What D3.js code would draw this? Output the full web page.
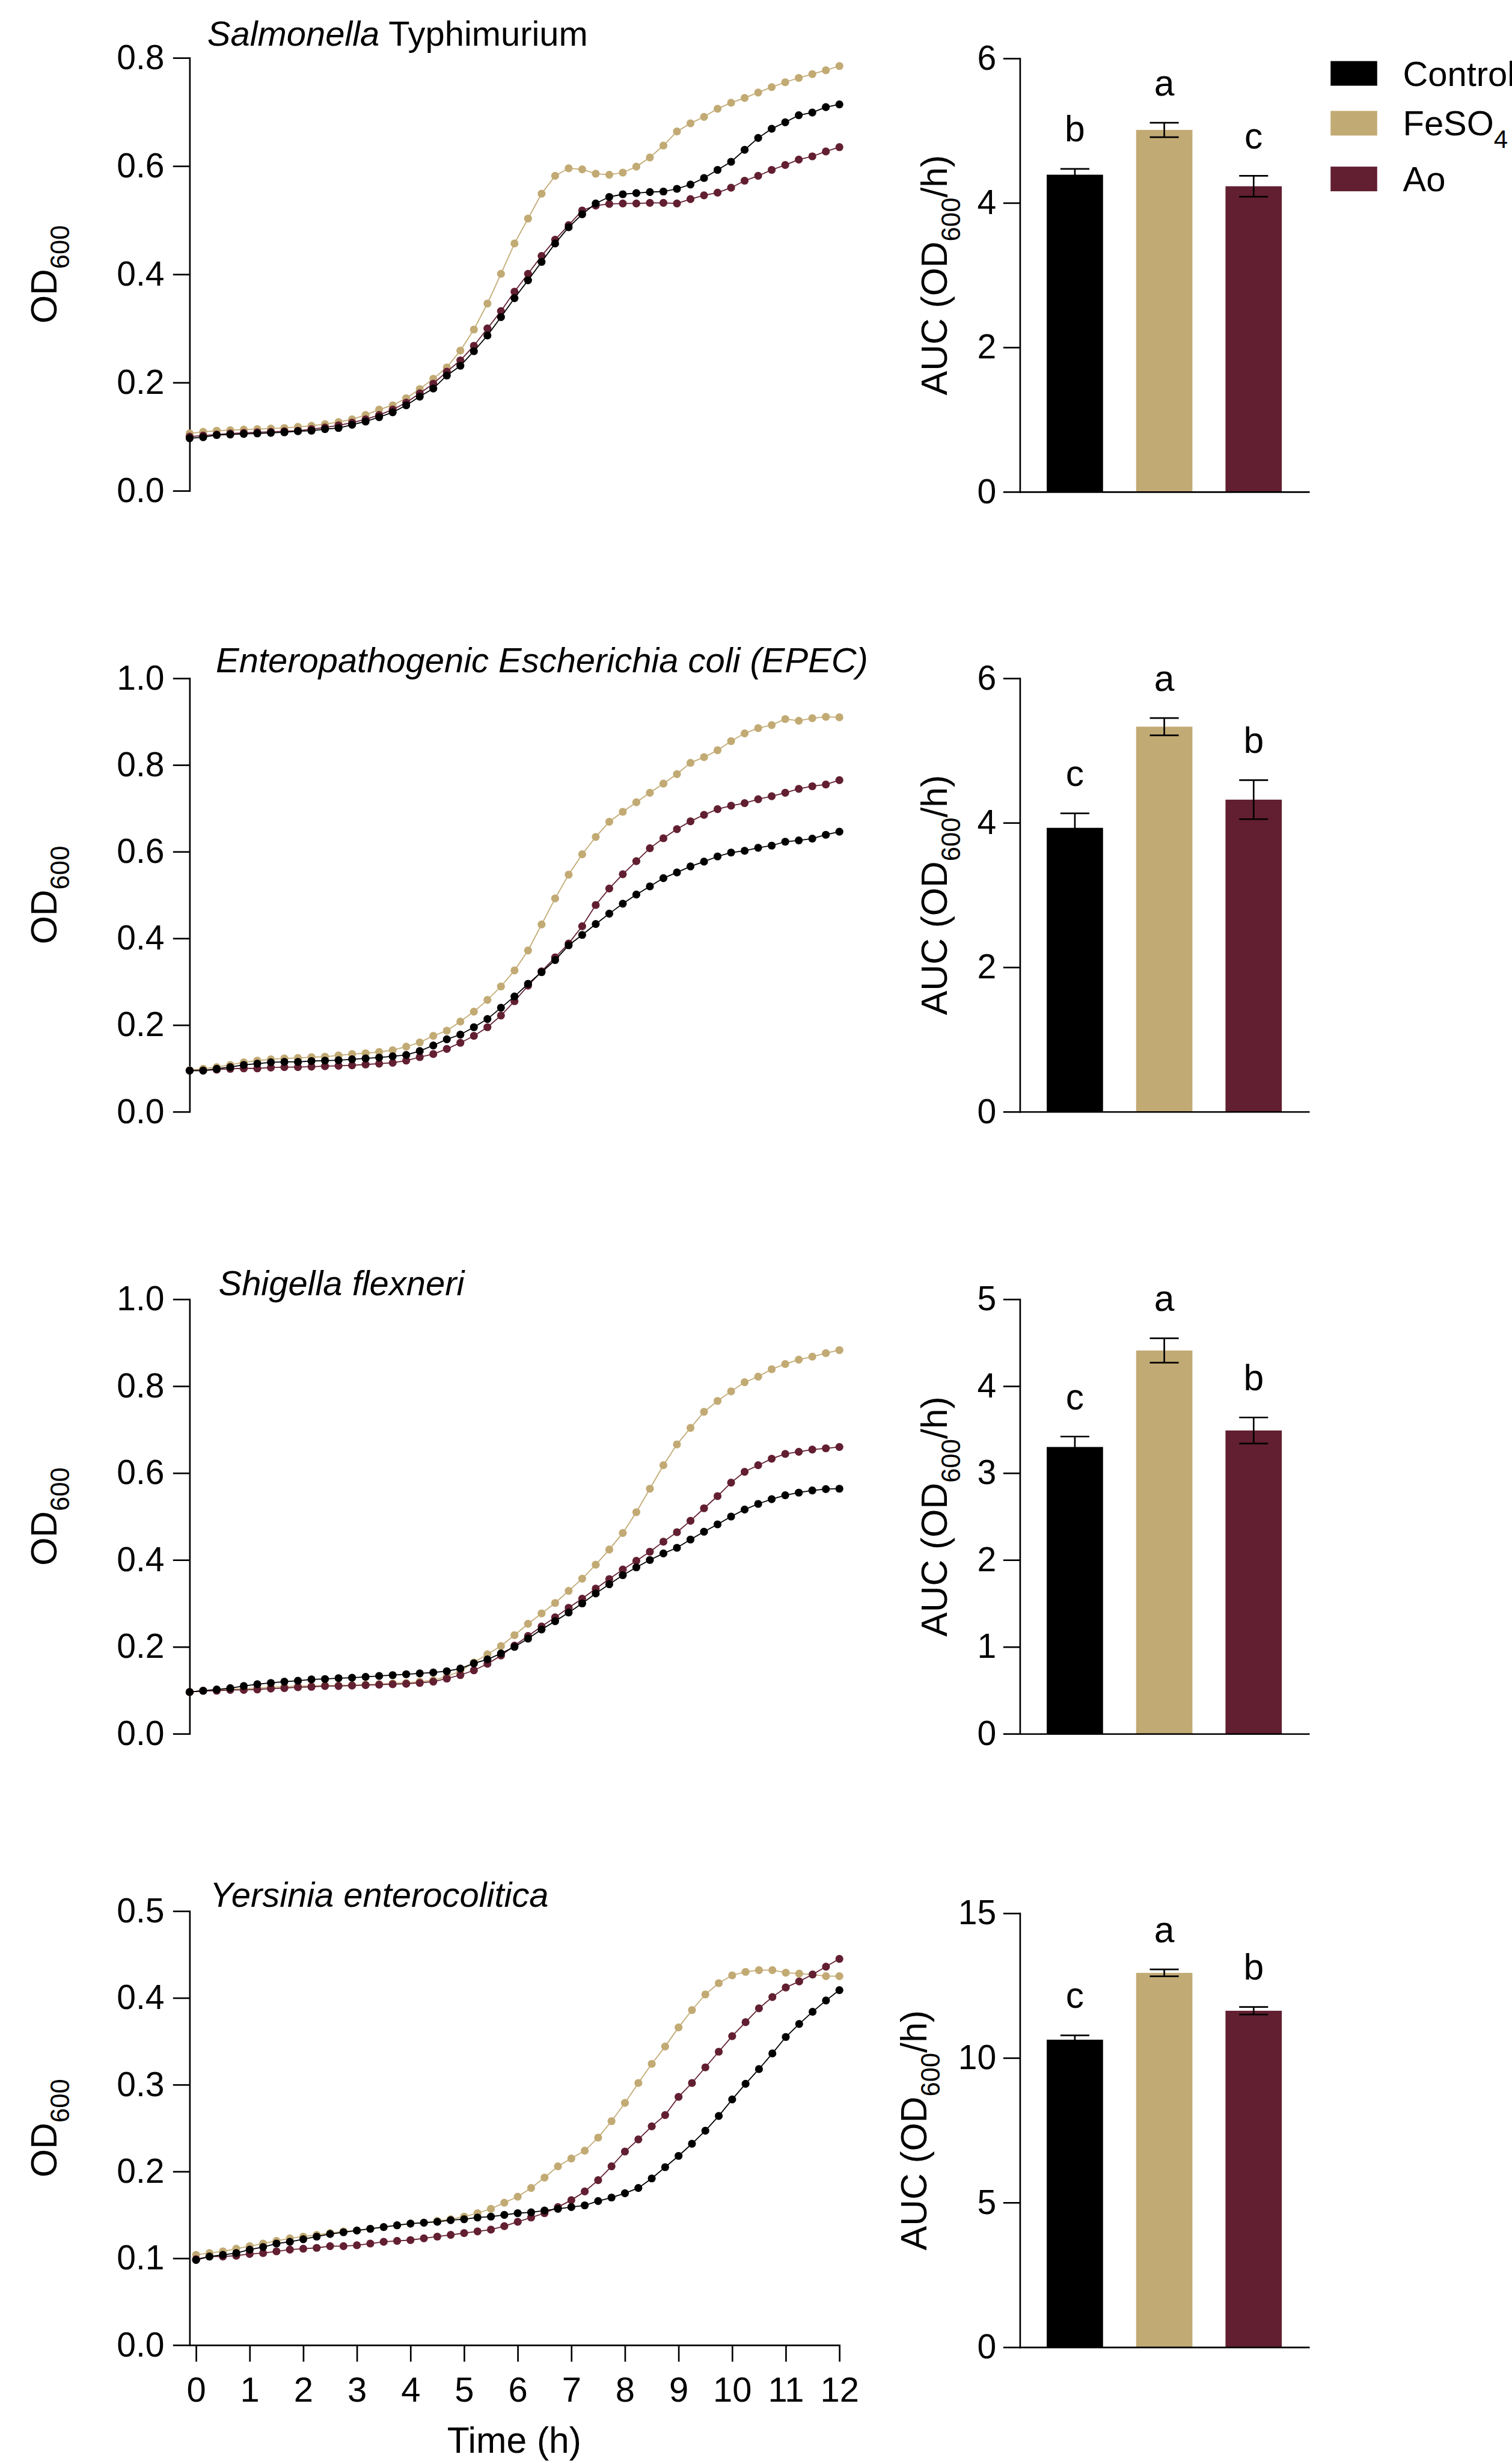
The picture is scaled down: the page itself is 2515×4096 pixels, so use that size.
<!DOCTYPE html>
<html>
<head>
<meta charset="utf-8">
<script src="https://cdn.jsdelivr.net/npm/d3@7"></script>
<style>
  body { margin: 0; background: #fff; }
  svg text { font-family: "Liberation Sans", Arial, sans-serif; fill: #000; }
</style>
</head>
<body>
<div id="chart"></div>
<script>
// time points (h)
var hours = [0, 0.25, 0.5, 0.75, 1, 1.25, 1.5, 1.75, 2, 2.25, 2.5, 2.75, 3, 3.25, 3.5, 3.75,
    4, 4.25, 4.5, 4.75, 5, 5.25, 5.5, 5.75, 6, 6.25, 6.5, 6.75, 7, 7.25, 7.5, 7.75,
    8, 8.25, 8.5, 8.75, 9, 9.25, 9.5, 9.75, 10, 10.25, 10.5, 10.75, 11, 11.25, 11.5, 11.75, 12];
var hourTicks = [0, 1, 2, 3, 4, 5, 6, 7, 8, 9, 10, 11, 12];

var groups = ["Control", "FeSO4", "Ao"];

// Salmonella Typhimurium
var salCtrl = [0.097, 0.099, 0.103, 0.104, 0.105, 0.106, 0.107, 0.108, 0.110, 0.111, 0.114, 0.116, 0.122, 0.128, 0.136, 0.145,
    0.158, 0.174, 0.189, 0.213, 0.231, 0.258, 0.287, 0.321, 0.356, 0.389, 0.423, 0.457, 0.487, 0.511, 0.531, 0.543,
    0.548, 0.550, 0.552, 0.553, 0.558, 0.566, 0.578, 0.593, 0.608, 0.630, 0.652, 0.669, 0.681, 0.694, 0.699, 0.709, 0.714];
var salFe = [0.106, 0.109, 0.111, 0.112, 0.113, 0.114, 0.115, 0.116, 0.118, 0.120, 0.123, 0.127, 0.132, 0.140, 0.150, 0.158,
    0.171, 0.188, 0.207, 0.228, 0.259, 0.298, 0.346, 0.401, 0.457, 0.503, 0.549, 0.582, 0.596, 0.594, 0.586, 0.584,
    0.588, 0.599, 0.616, 0.638, 0.664, 0.679, 0.691, 0.706, 0.717, 0.726, 0.736, 0.746, 0.755, 0.763, 0.770, 0.777, 0.785];
var salAo = [0.100, 0.102, 0.104, 0.106, 0.107, 0.108, 0.109, 0.110, 0.111, 0.114, 0.117, 0.121, 0.126, 0.132, 0.140, 0.150,
    0.163, 0.180, 0.198, 0.220, 0.241, 0.268, 0.300, 0.332, 0.368, 0.401, 0.434, 0.464, 0.491, 0.518, 0.527, 0.530,
    0.531, 0.531, 0.532, 0.532, 0.531, 0.539, 0.546, 0.551, 0.560, 0.573, 0.582, 0.593, 0.602, 0.612, 0.618, 0.627, 0.635];

// EPEC
var epecCtrl = [0.095, 0.095, 0.099, 0.103, 0.108, 0.111, 0.114, 0.115, 0.115, 0.117, 0.118, 0.119, 0.121, 0.123, 0.125, 0.128,
    0.131, 0.140, 0.153, 0.167, 0.178, 0.195, 0.214, 0.240, 0.266, 0.295, 0.322, 0.350, 0.384, 0.408, 0.433, 0.457,
    0.480, 0.501, 0.520, 0.539, 0.552, 0.566, 0.577, 0.589, 0.598, 0.602, 0.609, 0.614, 0.623, 0.626, 0.630, 0.639, 0.646];
var epecFe = [0.096, 0.099, 0.103, 0.108, 0.114, 0.118, 0.121, 0.123, 0.124, 0.126, 0.127, 0.130, 0.133, 0.135, 0.138, 0.142,
    0.150, 0.160, 0.175, 0.187, 0.208, 0.231, 0.258, 0.289, 0.326, 0.372, 0.432, 0.492, 0.547, 0.594, 0.634, 0.669,
    0.692, 0.714, 0.736, 0.757, 0.779, 0.805, 0.818, 0.834, 0.855, 0.873, 0.885, 0.892, 0.906, 0.902, 0.908, 0.911, 0.910];
var epecAo = [0.095, 0.095, 0.097, 0.099, 0.100, 0.100, 0.102, 0.103, 0.103, 0.104, 0.105, 0.106, 0.107, 0.109, 0.111, 0.113,
    0.118, 0.126, 0.133, 0.145, 0.159, 0.175, 0.195, 0.222, 0.255, 0.291, 0.324, 0.356, 0.388, 0.428, 0.477, 0.515,
    0.548, 0.578, 0.608, 0.631, 0.652, 0.670, 0.685, 0.698, 0.706, 0.712, 0.721, 0.728, 0.736, 0.745, 0.751, 0.755, 0.765];

// Shigella flexneri
var shiCtrl = [0.096, 0.099, 0.102, 0.105, 0.110, 0.114, 0.117, 0.120, 0.122, 0.125, 0.126, 0.128, 0.129, 0.131, 0.133, 0.135,
    0.137, 0.139, 0.141, 0.144, 0.150, 0.162, 0.171, 0.185, 0.200, 0.219, 0.240, 0.259, 0.279, 0.300, 0.323, 0.344,
    0.365, 0.383, 0.400, 0.415, 0.428, 0.447, 0.465, 0.482, 0.500, 0.516, 0.529, 0.540, 0.549, 0.555, 0.560, 0.563, 0.564];
var shiFe = [0.096, 0.099, 0.101, 0.102, 0.104, 0.105, 0.107, 0.108, 0.110, 0.110, 0.111, 0.111, 0.112, 0.113, 0.114, 0.116,
    0.117, 0.120, 0.123, 0.132, 0.144, 0.164, 0.183, 0.202, 0.227, 0.253, 0.277, 0.301, 0.329, 0.357, 0.389, 0.424,
    0.462, 0.510, 0.564, 0.618, 0.666, 0.704, 0.741, 0.766, 0.788, 0.809, 0.822, 0.839, 0.851, 0.861, 0.868, 0.876, 0.883];
var shiAo = [0.096, 0.099, 0.099, 0.101, 0.101, 0.102, 0.104, 0.105, 0.107, 0.108, 0.110, 0.110, 0.111, 0.112, 0.113, 0.114,
    0.115, 0.117, 0.120, 0.127, 0.135, 0.146, 0.161, 0.180, 0.203, 0.225, 0.247, 0.268, 0.290, 0.311, 0.334, 0.356,
    0.378, 0.398, 0.419, 0.442, 0.464, 0.490, 0.519, 0.547, 0.578, 0.603, 0.618, 0.633, 0.644, 0.649, 0.654, 0.657, 0.660];

// Yersinia enterocolitica
var yerCtrl = [0.098, 0.102, 0.104, 0.106, 0.110, 0.113, 0.117, 0.119, 0.122, 0.125, 0.128, 0.130, 0.132, 0.134, 0.136, 0.138,
    0.140, 0.141, 0.142, 0.144, 0.145, 0.147, 0.148, 0.150, 0.152, 0.153, 0.155, 0.157, 0.159, 0.161, 0.166, 0.170,
    0.175, 0.181, 0.192, 0.205, 0.218, 0.232, 0.247, 0.264, 0.283, 0.301, 0.318, 0.336, 0.355, 0.370, 0.384, 0.397, 0.409];
var yerFe = [0.104, 0.106, 0.108, 0.111, 0.114, 0.117, 0.120, 0.123, 0.125, 0.127, 0.129, 0.131, 0.132, 0.134, 0.136, 0.138,
    0.140, 0.141, 0.143, 0.145, 0.148, 0.152, 0.157, 0.164, 0.171, 0.181, 0.193, 0.206, 0.215, 0.224, 0.239, 0.258,
    0.279, 0.302, 0.324, 0.344, 0.366, 0.386, 0.404, 0.417, 0.426, 0.430, 0.432, 0.432, 0.429, 0.428, 0.427, 0.425, 0.425];
var yerAo = [0.099, 0.102, 0.102, 0.103, 0.105, 0.106, 0.108, 0.110, 0.111, 0.112, 0.114, 0.114, 0.115, 0.117, 0.119, 0.120,
    0.121, 0.123, 0.125, 0.127, 0.129, 0.131, 0.133, 0.137, 0.142, 0.147, 0.152, 0.159, 0.167, 0.177, 0.190, 0.206,
    0.223, 0.237, 0.252, 0.265, 0.286, 0.302, 0.320, 0.338, 0.356, 0.372, 0.388, 0.401, 0.412, 0.419, 0.427, 0.436, 0.445];

// AUC bars: Control, FeSO4, Ao
var salAuc = [4.39, 5.01, 4.23], salErr = [0.08, 0.10, 0.145], salLetters = ["b", "a", "c"];
var epecAuc = [3.93, 5.33, 4.32], epecErr = [0.20, 0.12, 0.27], epecLetters = ["c", "a", "b"];
var shiAuc = [3.30, 4.41, 3.49], shiErr = [0.12, 0.14, 0.15], shiLetters = ["c", "a", "b"];
var yerAuc = [10.63, 12.94, 11.63], yerErr = [0.15, 0.12, 0.13], yerLetters = ["c", "a", "b"];

// axis ticks
var odTicks08 = [0, 0.2, 0.4, 0.6, 0.8];
var odTicks10 = [0, 0.2, 0.4, 0.6, 0.8, 1.0];
var odTicks05 = [0, 0.1, 0.2, 0.3, 0.4, 0.5];
var aucTicks6 = [0, 2, 4, 6];
var aucTicks5 = [0, 1, 2, 3, 4, 5];
var aucTicks15 = [0, 5, 10, 15];

var colors = { Control: "#000000", FeSO4: "#C2AA74", Ao: "#621F31" };
var drawOrder = ["FeSO4", "Ao", "Control"];

var panels = [
    { title: [["Salmonella", true], [" Typhimurium", false]], curves: { Control: salCtrl, FeSO4: salFe, Ao: salAo },
      yMax: 0.8, yTicks: odTicks08, auc: salAuc, err: salErr, letters: salLetters, aucMax: 6, aucTicks: aucTicks6 },
    { title: [["Enteropathogenic Escherichia coli (EPEC)", true]], curves: { Control: epecCtrl, FeSO4: epecFe, Ao: epecAo },
      yMax: 1.0, yTicks: odTicks10, auc: epecAuc, err: epecErr, letters: epecLetters, aucMax: 6, aucTicks: aucTicks6 },
    { title: [["Shigella flexneri", true]], curves: { Control: shiCtrl, FeSO4: shiFe, Ao: shiAo },
      yMax: 1.0, yTicks: odTicks10, auc: shiAuc, err: shiErr, letters: shiLetters, aucMax: 5, aucTicks: aucTicks5 },
    { title: [["Yersinia enterocolitica", true]], curves: { Control: yerCtrl, FeSO4: yerFe, Ao: yerAo },
      yMax: 0.5, yTicks: odTicks05, auc: yerAuc, err: yerErr, letters: yerLetters, aucMax: 15, aucTicks: aucTicks15 }
];

// layout in reference pixels (drawn at 0.891)
var layout = [
    { top: 108, bottom: 916, barTop: 109, barBottom: 918, titleX: 387, titleY: 85, xMin: 0, aucLabelX: 1768 },
    { top: 1266, bottom: 2075, barTop: 1266, barBottom: 2075, titleX: 403, titleY: 1255, xMin: 0, aucLabelX: 1768 },
    { top: 2425, bottom: 3236, barTop: 2425, barBottom: 3236, titleX: 408, titleY: 2418, xMin: 0, aucLabelX: 1768 },
    { top: 3567, bottom: 4377, barTop: 3571, barBottom: 4381, titleX: 392, titleY: 3559, xMin: -0.12, aucLabelX: 1730 }
];

var k = 0.891;
var svg = d3.select("#chart").append("svg")
    .attr("width", 2515)
    .attr("height", 4096);
var root = svg.append("g").attr("transform", "scale(" + k + ")");

function styleAxis(sel, size) {
    sel.attr("font-family", null).attr("font-size", size);
    sel.select(".domain").attr("stroke", "#000").attr("stroke-width", 3).attr("stroke-linecap", "square");
    sel.selectAll(".tick line").attr("stroke", "#000").attr("stroke-width", 3);
    sel.selectAll(".tick text").attr("fill", "#000");
}

function subLabel(g, x, y, before, sub, after) {
    var t = g.append("text")
        .attr("transform", "translate(" + x + "," + y + ") rotate(-90)")
        .attr("text-anchor", "middle")
        .attr("font-size", 68);
    t.append("tspan").text(before);
    t.append("tspan").attr("font-size", 49).attr("dy", 24).text(sub);
    if (after) t.append("tspan").attr("dy", -24).text(after);
}

panels.forEach(function (p, idx) {
    var L = layout[idx];
    var g = root.append("g");

    // growth curve
    var x = d3.scaleLinear().domain([L.xMin, 12]).range([354, 1567]);
    var y = d3.scaleLinear().domain([0, p.yMax]).range([L.bottom, L.top]);

    g.append("g")
        .attr("transform", "translate(354,0)")
        .call(d3.axisLeft(y).tickValues(p.yTicks).tickFormat(d3.format(".1f"))
            .tickSize(31).tickSizeOuter(0).tickPadding(16))
        .call(styleAxis, 64);

    if (idx === panels.length - 1) {
        g.append("g")
            .attr("transform", "translate(0," + L.bottom + ")")
            .call(d3.axisBottom(x).tickValues(hourTicks).tickFormat(d3.format("d"))
                .tickSize(31).tickSizeOuter(0).tickPadding(29))
            .call(styleAxis, 65);
        g.append("text")
            .attr("x", 960)
            .attr("y", 4578)
            .attr("text-anchor", "middle")
            .attr("font-size", 68)
            .text("Time (h)");
    }

    var line = d3.line()
        .x(function (d, i) { return x(hours[i]); })
        .y(function (d) { return y(d); });

    drawOrder.forEach(function (name) {
        var vals = p.curves[name];
        g.append("path")
            .datum(vals)
            .attr("fill", "none")
            .attr("stroke", colors[name])
            .attr("stroke-width", 2)
            .attr("d", line);
        g.selectAll(null)
            .data(vals)
            .enter()
            .append("circle")
            .attr("cx", function (d, i) { return x(hours[i]); })
            .attr("cy", function (d) { return y(d); })
            .attr("r", 7.4)
            .attr("fill", colors[name]);
    });

    var title = g.append("text")
        .attr("x", L.titleX)
        .attr("y", L.titleY)
        .attr("font-size", 65);
    p.title.forEach(function (part) {
        title.append("tspan")
            .attr("font-style", part[1] ? "italic" : "normal")
            .text(part[0]);
    });

    subLabel(g, 105, (L.top + L.bottom) / 2, "OD", "600");

    // AUC bars
    var xb = d3.scaleBand().domain(groups).range([1904, 2443]).paddingInner(0.37).paddingOuter(0.30);
    var yb = d3.scaleLinear().domain([0, p.aucMax]).range([L.barBottom, L.barTop]);

    g.selectAll(null)
        .data(groups)
        .enter()
        .append("rect")
        .attr("x", function (d) { return xb(d); })
        .attr("y", function (d, i) { return yb(p.auc[i]); })
        .attr("width", xb.bandwidth())
        .attr("height", function (d, i) { return L.barBottom - yb(p.auc[i]); })
        .attr("fill", function (d) { return colors[d]; });

    groups.forEach(function (name, i) {
        var cx = xb(name) + xb.bandwidth() / 2;
        var hi = yb(p.auc[i] + p.err[i]);
        var lo = yb(p.auc[i] - p.err[i]);
        var eb = g.append("g").attr("stroke", "#000").attr("stroke-width", 3);
        eb.append("line").attr("x1", cx).attr("x2", cx).attr("y1", hi).attr("y2", lo);
        eb.append("line").attr("x1", cx - 27).attr("x2", cx + 27).attr("y1", hi).attr("y2", hi);
        eb.append("line").attr("x1", cx - 27).attr("x2", cx + 27).attr("y1", lo).attr("y2", lo);
        g.append("text")
            .attr("x", cx)
            .attr("y", hi - 51)
            .attr("text-anchor", "middle")
            .attr("font-size", 68)
            .text(p.letters[i]);
    });

    g.append("g")
        .attr("transform", "translate(1904,0)")
        .call(d3.axisLeft(yb).tickValues(p.aucTicks).tickFormat(d3.format("d"))
            .tickSize(31).tickSizeOuter(0).tickPadding(13))
        .call(styleAxis, 64);

    g.append("g")
        .attr("transform", "translate(0," + L.barBottom + ")")
        .call(d3.axisBottom(xb).tickSize(0).tickSizeOuter(0).tickFormat(""))
        .call(styleAxis, 64);

    subLabel(g, L.aucLabelX, (L.barTop + L.barBottom) / 2, "AUC (OD", "600", "/h)");
});

// legend (runs off the right edge, as in the original figure)
var legendY = [114, 207, 311];
var legend = root.append("g");
groups.forEach(function (name, i) {
    legend.append("rect")
        .attr("x", 2484)
        .attr("y", legendY[i])
        .attr("width", 87)
        .attr("height", 46)
        .attr("fill", colors[name]);
    var t = legend.append("text")
        .attr("x", 2619)
        .attr("y", legendY[i] + 46)
        .attr("font-size", 65);
    if (name === "FeSO4") {
        t.append("tspan").text("FeSO");
        t.append("tspan").attr("font-size", 47).attr("dy", 23).text("4");
    } else {
        t.text(name);
    }
});
</script>
</body>
</html>
